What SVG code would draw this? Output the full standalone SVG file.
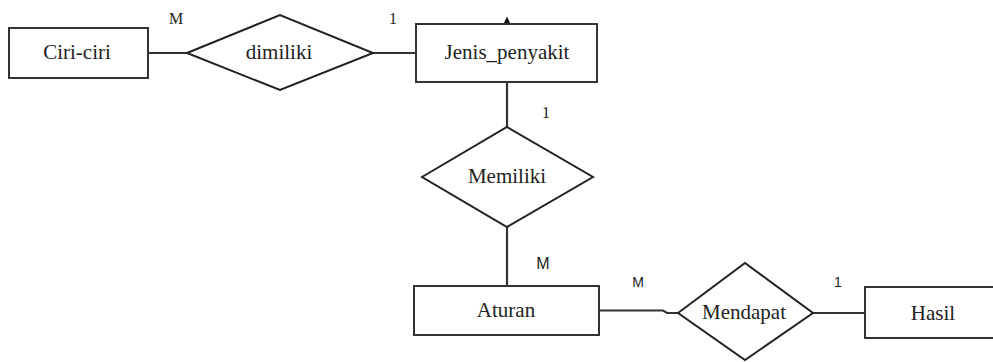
<svg xmlns="http://www.w3.org/2000/svg" width="993" height="362" viewBox="0 0 993 362">
<style>
.box{fill:#fff;stroke:#333;stroke-width:2}
.dia{fill:#fff;stroke:#222;stroke-width:2}
.ln{fill:none;stroke:#333;stroke-width:2.2}
.t{font-size:21px;fill:#222;text-anchor:middle}
.ls{font-size:16px;fill:#222;text-anchor:middle}
.lsans{font-size:14px;fill:#222;text-anchor:middle}
</style>
<g id="connectors">
<path class="ln" d="M148 53 H187"/>
<path class="ln" d="M373 53 H416"/>
<path class="ln" d="M507 82 V127"/>
<path class="ln" d="M507 227 V286"/>
<path class="ln" d="M599 310.5 H663 L667 313 H678"/>
<path class="ln" d="M813 313 H865"/>
<polygon points="503.5,24 510.5,24 507,16.5" fill="#111"/>
</g>
<g font-family="Liberation Serif, DejaVu Serif, serif">
<g id="ciri-ciri">
<rect class="box" x="9" y="28" width="139" height="50"/>
<text class="t" x="77" y="59">Ciri-ciri</text>
</g>
<g id="dimiliki">
<polygon class="dia" points="187,53 280,15 373,53 280,90"/>
<text class="t" x="279" y="59">dimiliki</text>
</g>
<g id="jenis_penyakit">
<rect class="box" x="416" y="24" width="181" height="58"/>
<text class="t" x="507" y="59">Jenis_penyakit</text>
</g>
<g id="memiliki">
<polygon class="dia" points="422,177 507,127 593,177 507,227"/>
<text class="t" x="507" y="183">Memiliki</text>
</g>
<g id="aturan">
<rect class="box" x="414" y="286" width="185" height="49"/>
<text class="t" x="506" y="317">Aturan</text>
</g>
<g id="mendapat">
<polygon class="dia" points="678,313 745,263 813,313 745,360"/>
<text class="t" x="744" y="319">Mendapat</text>
</g>
<g id="hasil">
<rect class="box" x="865" y="287" width="140" height="51"/>
<text class="t" x="933" y="320">Hasil</text>
</g>
<g id="labels">
<text class="ls" x="176" y="24">M</text>
<text class="ls" x="393" y="24">1</text>
<text class="ls" x="546" y="118">1</text>
<text class="lsans" x="543" y="269" font-family="Liberation Sans, sans-serif" style="font-size:16px">M</text>
<text class="lsans" x="638" y="287" font-family="Liberation Sans, sans-serif">M</text>
<text class="lsans" x="838" y="287" font-family="Liberation Sans, sans-serif">1</text>
</g>
</g>
</svg>
